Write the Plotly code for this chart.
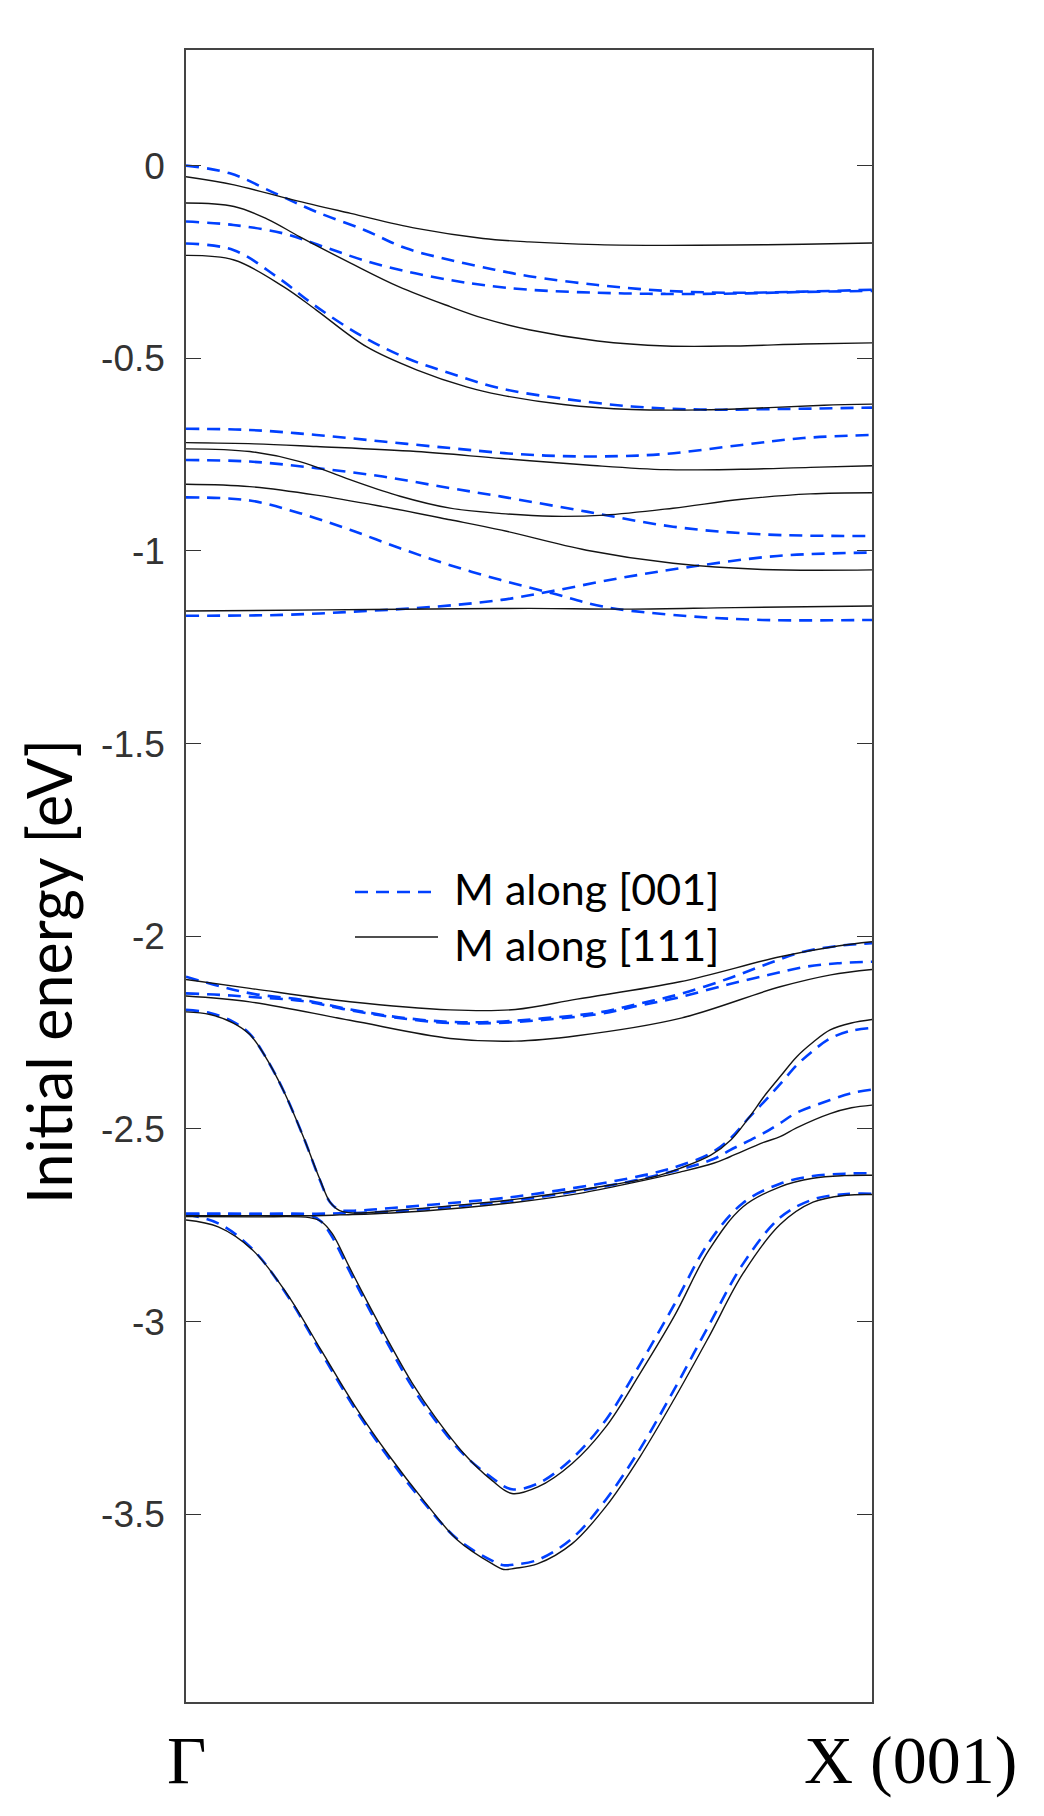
import plotly.graph_objects as go

# --- band energies (x: 0 = Gamma, 1 = X(001)) ---

# M along [001]  (blue dashed)
x_d1 = [0, 0.064, 0.13, 0.19, 0.26, 0.32, 0.385, 0.45, 0.5, 0.6, 0.7, 0.8, 0.9, 1.0]
e_d1 = [0.0, -0.02, -0.072, -0.12, -0.167, -0.214, -0.245, -0.27, -0.287, -0.31, -0.325, -0.33, -0.327, -0.322]
x_d2 = [0, 0.069, 0.142, 0.2, 0.258, 0.322, 0.385, 0.433, 0.5, 0.6, 0.7, 0.8, 0.9, 1.0]
e_d2 = [-0.145, -0.154, -0.176, -0.21, -0.245, -0.275, -0.297, -0.31, -0.322, -0.33, -0.333, -0.332, -0.328, -0.325]
x_d3 = [0, 0.069, 0.132, 0.19, 0.258, 0.322, 0.385, 0.458, 0.55, 0.65, 0.75, 0.85, 1.0]
e_d3 = [-0.202, -0.219, -0.288, -0.366, -0.444, -0.5, -0.539, -0.578, -0.605, -0.625, -0.633, -0.632, -0.628]
x_d4 = [0, 0.093, 0.19, 0.287, 0.385, 0.47, 0.55, 0.63, 0.7, 0.81, 0.9, 1.0]
e_d4 = [-0.683, -0.686, -0.699, -0.716, -0.733, -0.747, -0.754, -0.754, -0.748, -0.725, -0.707, -0.699]
x_d5 = [0, 0.093, 0.19, 0.287, 0.385, 0.46, 0.584, 0.71, 0.84, 1.0]
e_d5 = [-0.764, -0.768, -0.785, -0.807, -0.837, -0.859, -0.898, -0.937, -0.957, -0.961]
x_d6 = [0, 0.093, 0.166, 0.239, 0.312, 0.385, 0.458, 0.534, 0.61, 0.71, 0.84, 1.0]
e_d6 = [-0.861, -0.869, -0.902, -0.945, -0.993, -1.037, -1.075, -1.11, -1.145, -1.166, -1.179, -1.179]
x_d7 = [0, 0.14, 0.24, 0.36, 0.46, 0.534, 0.634, 0.736, 0.862, 1.0]
e_d7 = [-1.168, -1.166, -1.158, -1.145, -1.127, -1.104, -1.07, -1.041, -1.013, -1.004]
x_d8 = [0, 0.05, 0.1, 0.17, 0.24, 0.31, 0.385, 0.45, 0.52, 0.6, 0.66, 0.72, 0.79, 0.85, 0.9, 0.95, 1.0]
e_d8 = [-2.105, -2.13, -2.15, -2.165, -2.19, -2.21, -2.222, -2.222, -2.213, -2.198, -2.175, -2.15, -2.11, -2.07, -2.04, -2.025, -2.018]
x_d9 = [0, 0.05, 0.1, 0.17, 0.24, 0.31, 0.385, 0.45, 0.52, 0.6, 0.66, 0.72, 0.79, 0.85, 0.9, 0.95, 1.0]
e_d9 = [-2.148, -2.152, -2.158, -2.168, -2.192, -2.212, -2.225, -2.225, -2.217, -2.202, -2.18, -2.158, -2.125, -2.1, -2.08, -2.07, -2.066]
x_d10 = [0, 0.035, 0.069, 0.093, 0.115, 0.142, 0.171, 0.195, 0.21, 0.224, 0.245, 0.3, 0.4, 0.482, 0.603,
         0.68, 0.72, 0.765, 0.795, 0.82, 0.845, 0.868, 0.89, 0.914, 0.939, 0.97, 1.0]
e_d10 = [-2.191, -2.199, -2.222, -2.253, -2.31, -2.4, -2.52, -2.632, -2.69, -2.71, -2.712, -2.705, -2.69, -2.675, -2.642,
         -2.615, -2.595, -2.563, -2.522, -2.472, -2.425, -2.38, -2.335, -2.297, -2.265, -2.245, -2.238]
x_d11 = [0, 0.1, 0.19, 0.224, 0.3, 0.4, 0.482, 0.574, 0.65, 0.72, 0.769, 0.793, 0.842, 0.866, 0.89, 0.939, 0.97, 1.0]
e_d11 = [-2.72, -2.72, -2.72, -2.719, -2.714, -2.7, -2.685, -2.66, -2.635, -2.605, -2.578, -2.555, -2.511, -2.485, -2.458, -2.425, -2.407, -2.398]
x_d12 = [0, 0.1, 0.18, 0.197, 0.213, 0.238, 0.263, 0.297, 0.33, 0.363, 0.405, 0.446, 0.475, 0.513, 0.563,
         0.612, 0.662, 0.712, 0.762, 0.812, 0.866, 0.914, 0.96, 1.0]
e_d12 = [-2.72, -2.721, -2.724, -2.74, -2.78, -2.868, -2.954, -3.067, -3.17, -3.255, -3.345, -3.405, -3.435, -3.42, -3.355,
         -3.255, -3.11, -2.955, -2.795, -2.692, -2.642, -2.622, -2.616, -2.615]
x_d13 = [0, 0.047, 0.097, 0.147, 0.197, 0.247, 0.297, 0.346, 0.396, 0.446, 0.463, 0.48, 0.513, 0.563,
         0.612, 0.662, 0.712, 0.762, 0.812, 0.866, 0.914, 0.963, 1.0]
e_d13 = [-2.722, -2.745, -2.812, -2.93, -3.08, -3.228, -3.357, -3.468, -3.565, -3.62, -3.632, -3.63, -3.618, -3.562,
         -3.462, -3.33, -3.175, -3.01, -2.85, -2.73, -2.683, -2.669, -2.668]

# M along [111]  (black solid)
x_s1 = [0, 0.07, 0.156, 0.24, 0.336, 0.433, 0.5, 0.6, 0.7, 0.8, 0.9, 1.0]
e_s1 = [-0.029, -0.05, -0.089, -0.124, -0.163, -0.189, -0.198, -0.205, -0.207, -0.206, -0.204, -0.201]
x_s2 = [0, 0.07, 0.12, 0.166, 0.24, 0.31, 0.385, 0.433, 0.5, 0.6, 0.7, 0.8, 0.9, 1.0]
e_s2 = [-0.097, -0.106, -0.14, -0.185, -0.253, -0.314, -0.366, -0.396, -0.426, -0.455, -0.468, -0.468, -0.463, -0.46]
x_s3 = [0, 0.07, 0.142, 0.19, 0.263, 0.336, 0.41, 0.458, 0.55, 0.65, 0.75, 0.85, 0.93, 1.0]
e_s3 = [-0.233, -0.245, -0.314, -0.375, -0.47, -0.53, -0.575, -0.595, -0.62, -0.633, -0.634, -0.628, -0.622, -0.619]
x_s4 = [0, 0.1, 0.19, 0.336, 0.46, 0.584, 0.7, 0.81, 0.91, 1.0]
e_s4 = [-0.719, -0.722, -0.729, -0.742, -0.76, -0.777, -0.789, -0.788, -0.783, -0.779]
x_s5 = [0, 0.093, 0.166, 0.239, 0.312, 0.385, 0.46, 0.534, 0.61, 0.71, 0.81, 0.91, 1.0]
e_s5 = [-0.735, -0.742, -0.768, -0.815, -0.858, -0.889, -0.903, -0.91, -0.907, -0.889, -0.866, -0.852, -0.849]
x_s6 = [0, 0.093, 0.19, 0.287, 0.385, 0.46, 0.584, 0.71, 0.84, 1.0]
e_s6 = [-0.827, -0.833, -0.855, -0.885, -0.919, -0.946, -0.998, -1.032, -1.048, -1.049]
x_s7 = [0, 0.2, 0.4, 0.5, 0.65, 0.8, 1.0]
e_s7 = [-1.156, -1.153, -1.15, -1.149, -1.151, -1.147, -1.143]
x_s8 = [0, 0.093, 0.239, 0.385, 0.48, 0.57, 0.72, 0.866, 0.95, 1.0]
e_s8 = [-2.112, -2.135, -2.17, -2.191, -2.19, -2.163, -2.118, -2.053, -2.025, -2.014]
x_s9 = [0, 0.093, 0.239, 0.385, 0.48, 0.57, 0.72, 0.866, 0.94, 1.0]
e_s9 = [-2.155, -2.17, -2.218, -2.265, -2.272, -2.258, -2.213, -2.131, -2.1, -2.086]
x_s10 = [0, 0.035, 0.069, 0.093, 0.115, 0.142, 0.171, 0.195, 0.21, 0.224, 0.245, 0.3, 0.4, 0.482, 0.603,
         0.68, 0.72, 0.765, 0.795, 0.82, 0.845, 0.868, 0.89, 0.914, 0.939, 0.97, 1.0]
e_s10 = [-2.196, -2.203, -2.225, -2.255, -2.31, -2.4, -2.52, -2.63, -2.69, -2.712, -2.718, -2.712, -2.697, -2.682, -2.65,
         -2.625, -2.602, -2.568, -2.527, -2.472, -2.41, -2.36, -2.313, -2.275, -2.243, -2.225, -2.216]
x_s11 = [0, 0.1, 0.19, 0.224, 0.3, 0.4, 0.482, 0.574, 0.65, 0.72, 0.769, 0.793, 0.842, 0.866, 0.89, 0.939, 0.97, 1.0]
e_s11 = [-2.725, -2.725, -2.725, -2.723, -2.718, -2.705, -2.69, -2.667, -2.64, -2.612, -2.589, -2.572, -2.535, -2.52, -2.497, -2.46, -2.445, -2.438]
x_s12 = [0, 0.1, 0.18, 0.197, 0.213, 0.238, 0.263, 0.297, 0.33, 0.363, 0.405, 0.446, 0.475, 0.513, 0.563,
         0.612, 0.662, 0.712, 0.762, 0.812, 0.866, 0.914, 0.96, 1.0]
e_s12 = [-2.727, -2.728, -2.73, -2.74, -2.771, -2.858, -2.944, -3.057, -3.16, -3.247, -3.342, -3.412, -3.446, -3.429, -3.368,
         -3.273, -3.134, -2.985, -2.815, -2.702, -2.65, -2.628, -2.621, -2.62]
x_s13 = [0, 0.047, 0.097, 0.147, 0.197, 0.247, 0.297, 0.346, 0.396, 0.446, 0.463, 0.48, 0.513, 0.563,
         0.612, 0.662, 0.712, 0.762, 0.812, 0.866, 0.914, 0.963, 1.0]
e_s13 = [-2.736, -2.754, -2.814, -2.927, -3.074, -3.221, -3.35, -3.463, -3.567, -3.628, -3.643, -3.64, -3.628, -3.576,
         -3.48, -3.35, -3.2, -3.04, -2.875, -2.748, -2.69, -2.672, -2.67]

bands_001 = [(x_d1, e_d1), (x_d2, e_d2), (x_d3, e_d3), (x_d4, e_d4), (x_d5, e_d5), (x_d6, e_d6), (x_d7, e_d7),
             (x_d8, e_d8), (x_d9, e_d9), (x_d10, e_d10), (x_d11, e_d11), (x_d12, e_d12), (x_d13, e_d13)]
bands_111 = [(x_s1, e_s1), (x_s2, e_s2), (x_s3, e_s3), (x_s4, e_s4), (x_s5, e_s5), (x_s6, e_s6), (x_s7, e_s7),
             (x_s8, e_s8), (x_s9, e_s9), (x_s10, e_s10), (x_s11, e_s11), (x_s12, e_s12), (x_s13, e_s13)]

series_names = ["M along [001]", "M along [111]"]
y_ticks = [0, -0.5, -1, -1.5, -2, -2.5, -3, -3.5]
y_ticktext = ["0", "-0.5", "-1", "-1.5", "-2", "-2.5", "-3", "-3.5"]
k_labels = ["\u0393", "X (001)"]
y_title = "Initial energy [eV]"

BLUE = "#0040ff"
BLACK = "#141414"
DASH = "13px,8px"

# page has an 8px body margin, so the figure is made 8px smaller and
# everything below is given in page pixels minus that offset
OFF = 8
W, H = 1044 - OFF, 1816 - OFF
L, R, T, B = 186 - OFF, 872 - OFF, 50 - OFF, 1702 - OFF   # plot frame


def px(x):
    return (x - OFF - L) / (R - L)


def py(y):
    return (B - (y - OFF)) / (B - T)


fig = go.Figure()

for xs, es in bands_001:
    fig.add_trace(go.Scatter(x=xs, y=es, mode="lines", showlegend=False,
                             line=dict(color=BLUE, width=2.6, dash=DASH, shape="spline", smoothing=1.0)))
for xs, es in bands_111:
    fig.add_trace(go.Scatter(x=xs, y=es, mode="lines", showlegend=False,
                             line=dict(color=BLACK, width=1.4, shape="spline", smoothing=1.0)))

# hand-made legend (long line samples as in the original)
leg_font = dict(family="Lato", size=43, color="black")
fig.add_shape(type="line", xref="paper", yref="paper", x0=px(355), x1=px(433), y0=py(892), y1=py(892),
              line=dict(color=BLUE, width=2.6, dash=DASH))
fig.add_shape(type="line", xref="paper", yref="paper", x0=px(355), x1=px(438), y0=py(937), y1=py(937),
              line=dict(color=BLACK, width=1.4))
fig.add_annotation(x=px(452), y=py(888), xref="paper", yref="paper", text=series_names[0],
                   showarrow=False, xanchor="left", yanchor="middle", font=leg_font)
fig.add_annotation(x=px(452), y=py(944), xref="paper", yref="paper", text=series_names[1],
                   showarrow=False, xanchor="left", yanchor="middle", font=leg_font)

# k-point labels and y title
kfont = dict(family="Liberation Serif", size=68, color="black")
fig.add_annotation(x=px(186), y=py(1760), xref="paper", yref="paper", text=k_labels[0],
                   showarrow=False, xanchor="center", yanchor="middle", font=kfont)
fig.add_annotation(x=px(910), y=py(1760), xref="paper", yref="paper", text=k_labels[1],
                   showarrow=False, xanchor="center", yanchor="middle", font=kfont)
fig.add_annotation(x=px(49), y=py(972), xref="paper", yref="paper", text=y_title, textangle=-90,
                   showarrow=False, xanchor="center", yanchor="middle", borderpad=0,
                   font=dict(family="Lato", size=61, color="black"))

fig.update_xaxes(range=[0, 1], showticklabels=False, ticks="", showgrid=False, zeroline=False,
                 showline=True, linecolor="#444444", linewidth=1.5, mirror=True)
fig.update_yaxes(range=[-3.987, 0.30], tickvals=y_ticks, ticktext=y_ticktext, ticks="inside", ticklen=15,
                 tickwidth=1.2, tickcolor="#333333", showgrid=False, zeroline=False,
                 showline=True, linecolor="#444444", linewidth=1.5, mirror="ticks",
                 tickfont=dict(family="Liberation Sans", size=37, color="#333333"), ticklabelstandoff=12)

fig.update_layout(width=W, height=H, margin=dict(l=L, r=W - R, t=T, b=H - B, autoexpand=False),
                  plot_bgcolor="white", paper_bgcolor="white")

fig.write_html("out.html")
